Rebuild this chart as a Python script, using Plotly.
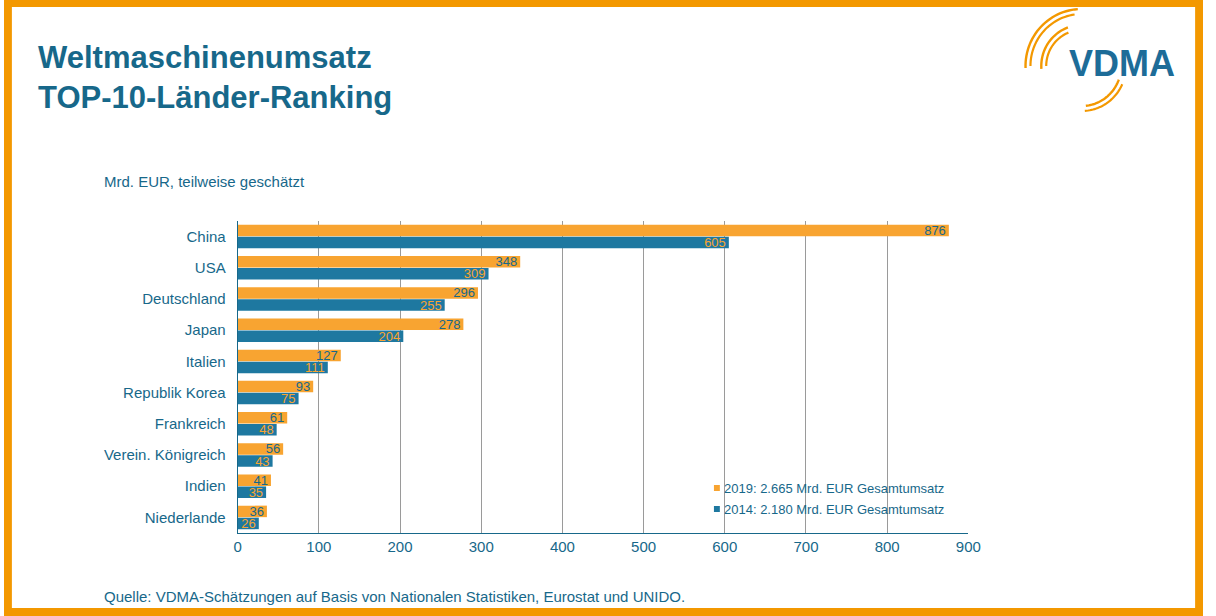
import numpy as np
import plotly.graph_objects as go

# ── data ───────────────────────────────────────────────────────────────────
laender = ['China', 'USA', 'Deutschland', 'Japan', 'Italien', 'Republik Korea',
           'Frankreich', 'Verein. Königreich', 'Indien', 'Niederlande']
umsatz_2019 = [876, 348, 296, 278, 127, 93, 61, 56, 41, 36]
umsatz_2014 = [605, 309, 255, 204, 111, 75, 48, 43, 35, 26]
name_2019 = '2019: 2.665 Mrd. EUR Gesamtumsatz'
name_2014 = '2014: 2.180 Mrd. EUR Gesamtumsatz'
x_ticks = [0, 100, 200, 300, 400, 500, 600, 700, 800, 900]

W, H = 1216, 616
ORANGE = '#F8A431'
BLUE = '#1E78A0'
TEAL = '#17688A'
FRAME = '#F39800'
FONT = 'Liberation Sans, Arial, sans-serif'


def px(x):
    return x / W


def py(y):
    return 1 - y / H


fig = go.Figure()

fig.add_trace(go.Bar(
    y=laender, x=umsatz_2019, orientation='h', name=name_2019,
    marker=dict(color=ORANGE, line=dict(width=0)),
    text=umsatz_2019, textposition='inside', insidetextanchor='end',
    textangle=0, constraintext='none', cliponaxis=False,
    textfont=dict(size=13, color=TEAL, family=FONT),
    showlegend=False, hoverinfo='x+y'))
fig.add_trace(go.Bar(
    y=laender, x=umsatz_2014, orientation='h', name=name_2014,
    marker=dict(color=BLUE, line=dict(width=0)),
    text=umsatz_2014, textposition='inside', insidetextanchor='end',
    textangle=0, constraintext='none', cliponaxis=False,
    textfont=dict(size=13, color=ORANGE, family=FONT),
    showlegend=False, hoverinfo='x+y'))

# ── decoration: frame, logo arcs ───────────────────────────────────────────
shapes = []
for x0, y0, x1, y1 in [(0, 0, W, 7), (0, 608, W, H), (0, 0, 8, H), (1208, 0, W, H)]:
    shapes.append(dict(type='rect', xref='paper', yref='paper',
                       x0=px(x0), x1=px(x1), y0=py(y1), y1=py(y0),
                       fillcolor=FRAME, line=dict(width=0), layer='above'))

cx, cy = 1093, 66
arcs = [(57, 178, 266, 2.4), (52, 180, 262, 2.2), (41, 176, 250, 2.4), (36, 180, 248, 2.2),
        (40, 20, 84, 2.4), (45, 24, 86, 2.2)]
for r, a0, a1, wdt in arcs:
    t = np.radians(np.linspace(a0, a1, 30))
    pts = [(px(cx + r * np.cos(a)), py(cy + r * np.sin(a))) for a in t]
    path = 'M ' + ' L '.join(f'{a:.5f},{b:.5f}' for a, b in pts)
    shapes.append(dict(type='path', xref='paper', yref='paper', path=path,
                       line=dict(color=FRAME, width=wdt)))

# compact legend (small squares right next to the text)
for (name, col), ly in zip([(name_2019, ORANGE), (name_2014, BLUE)], [488, 509]):
    shapes.append(dict(type='rect', xref='paper', yref='paper',
                       x0=px(720), x1=px(726), y0=py(ly + 3), y1=py(ly - 3),
                       fillcolor=col, line=dict(width=0)))

annotations = [
    dict(text='<b>Weltmaschinenumsatz</b>', x=px(32), y=py(58), xanchor='left',
         yanchor='middle', font=dict(size=31, color=TEAL, family=FONT)),
    dict(text='<b>TOP-10-Länder-Ranking</b>', x=px(32), y=py(97), xanchor='left',
         yanchor='middle', font=dict(size=31, color=TEAL, family=FONT)),
    dict(text='Mrd. EUR, teilweise geschätzt', x=px(99), y=py(182), xanchor='left',
         yanchor='middle', font=dict(size=15, color=TEAL, family=FONT)),
    dict(text='Quelle: VDMA-Schätzungen auf Basis von Nationalen Statistiken, Eurostat und UNIDO.',
         x=px(99), y=py(596), xanchor='left', yanchor='middle',
         font=dict(size=15, color=TEAL, family=FONT)),
    dict(text='<b>VDMA</b>', x=px(1134), y=py(63), xanchor='center', yanchor='middle',
         font=dict(size=36, color='#1D6C98', family=FONT)),
    dict(text=name_2019, x=px(728), y=py(488), xanchor='left', yanchor='middle',
         font=dict(size=13, color=TEAL, family=FONT)),
    dict(text=name_2014, x=px(728), y=py(509), xanchor='left', yanchor='middle',
         font=dict(size=13, color=TEAL, family=FONT)),
]
for a in annotations:
    a.update(xref='paper', yref='paper', showarrow=False)

fig.update_layout(
    autosize=True,
    margin=dict(l=0, r=0, t=0, b=0),
    paper_bgcolor='white', plot_bgcolor='white',
    showlegend=False,
    barmode='group', bargap=0.23, bargroupgap=0.04,
    font=dict(family=FONT, color=TEAL, size=15),
    xaxis=dict(domain=[px(237), px(978)], range=[0, 900], tickvals=x_ticks,
               showgrid=True, gridcolor='#9a9a9a', gridwidth=1, zeroline=False,
               showline=True, linecolor=TEAL, linewidth=1, ticks='',
               tickfont=dict(size=15, color=TEAL), fixedrange=True),
    yaxis=dict(domain=[py(533), py(221)], autorange='reversed', showgrid=False,
               showline=True, linecolor=TEAL, linewidth=1, ticks='',
               ticklabelstandoff=8, tickfont=dict(size=15, color=TEAL),
               fixedrange=True),
    shapes=shapes,
    annotations=annotations,
)

# fill the browser window exactly (no body margin, no scrollbars)
fit_page = (
    "document.documentElement.style.overflow='hidden';"
    "document.body.style.margin='0px';"
    "var gd=document.getElementById('{plot_id}');"
    "gd.style.width='100vw';gd.style.height='100vh';"
    "Plotly.Plots.resize(gd);"
)
fig.write_html('out.html', config={'displayModeBar': False}, post_script=fit_page)
